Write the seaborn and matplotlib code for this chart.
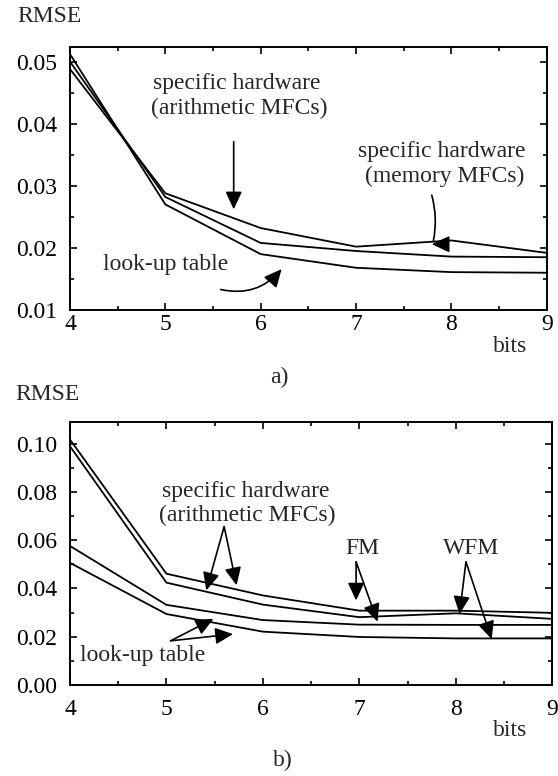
import numpy as np
import pandas as pd
import matplotlib
matplotlib.use("Agg")
import matplotlib.pyplot as plt
from matplotlib.ticker import MultipleLocator, FormatStrFormatter
import seaborn as sns

# ---------------- data ----------------
bits = [4, 5, 6, 7, 8, 9]

# panel a)
a_memory_mfc = [0.0488, 0.0288, 0.0232, 0.0202, 0.0212, 0.0192]
a_arith_mfc = [0.0500, 0.0282, 0.0208, 0.0195, 0.0186, 0.0185]
a_lookup = [0.0512, 0.0270, 0.0190, 0.0168, 0.0161, 0.0160]

# panel b)
b_hw_1 = [0.1017, 0.0461, 0.0371, 0.0308, 0.0308, 0.0299]
b_hw_2 = [0.0989, 0.0424, 0.0333, 0.0281, 0.0297, 0.0274]
b_lut_1 = [0.0576, 0.0332, 0.0269, 0.0250, 0.0249, 0.0249]
b_lut_2 = [0.0506, 0.0294, 0.0221, 0.0199, 0.0193, 0.0193]

a_yticks = [0.01, 0.02, 0.03, 0.04, 0.05]
b_yticks = [0.00, 0.02, 0.04, 0.06, 0.08, 0.10]
xticks = bits

sns.set_style("ticks")
plt.rcParams["font.family"] = ["Liberation Serif", "DejaVu Serif"]
plt.rcParams["mathtext.fontset"] = "dejavuserif"

FS = 17
W, H = 558, 776
fig = plt.figure(figsize=(W / 100, H / 100), dpi=100)
fig.patch.set_facecolor("white")


def px_axes(l, t, r, b):
    return fig.add_axes([l / W, 1 - b / H, (r - l) / W, (b - t) / H])


def long_df(series):
    rows = []
    for name, vals in series.items():
        for x, v in zip(bits, vals):
            rows.append({"bits": x, "rmse": v, "series": name})
    return pd.DataFrame(rows)


def style_axes(ax, ylim, yticks, ymin_step, fmt, xpad):
    ax.set_xlim(4, 9)
    ax.set_ylim(*ylim)
    ax.set_xticks(xticks)
    ax.set_yticks(yticks)
    ax.xaxis.set_minor_locator(MultipleLocator(0.5))
    ax.yaxis.set_minor_locator(MultipleLocator(ymin_step))
    ax.yaxis.set_major_formatter(FormatStrFormatter(fmt))
    ax.tick_params(which="both", direction="in", top=True, right=True,
                   colors="black", width=1.2)
    ax.tick_params(which="major", length=5)
    ax.tick_params(which="minor", length=3)
    ax.tick_params(axis="y", which="major", labelsize=FS, pad=9)
    ax.tick_params(axis="x", which="major", labelsize=FS, pad=xpad)
    for s in ax.spines.values():
        s.set_visible(True)
        s.set_linewidth(1.4)
        s.set_color("black")
    ax.set_xlabel("")
    ax.set_ylabel("")
    ax.set_facecolor("white")


def arrow(ax, head, tail, rad=0.0, style="-|>,head_length=0.9,head_width=0.42"):
    ax.annotate("", xy=head, xytext=tail,
                arrowprops=dict(arrowstyle=style,
                                mutation_scale=12, color="black", lw=1.2,
                                shrinkA=0, shrinkB=0,
                                connectionstyle=f"arc3,rad={rad}"))


# ---------------- panel a ----------------
ax1 = px_axes(70, 46.7, 546.7, 310)
dfa = long_df({"memory": a_memory_mfc, "arith": a_arith_mfc, "lut": a_lookup})
sns.lineplot(data=dfa, x="bits", y="rmse", hue="series",
             palette={"memory": "black", "arith": "black", "lut": "black"},
             linewidth=1.3, legend=False, ax=ax1)
style_axes(ax1, (0.01, 0.0524), a_yticks, 0.005, "%.2f", 3)

ax1.text(5.75, 0.0464, "specific hardware", ha="center", va="center", fontsize=FS)
ax1.text(5.77, 0.0424, "(arithmetic MFCs)", ha="center", va="center", fontsize=FS)
arrow(ax1, (5.717, 0.0262), (5.717, 0.0371))
ax1.text(7.90, 0.0355, "specific hardware", ha="center", va="center", fontsize=FS)
ax1.text(7.93, 0.0315, "(memory MFCs)", ha="center", va="center", fontsize=FS)
# hand-drawn style: near-vertical stroke ending in a left-pointing head
arrow(ax1, (7.812, 0.0212), (7.794, 0.0285), rad=-0.12, style="-")
arrow(ax1, (7.794, 0.0206), (7.944, 0.0206))
ax1.text(5.00, 0.0173, "look-up table", ha="center", va="center", fontsize=FS)
arrow(ax1, (6.22, 0.0166), (5.58, 0.0133), rad=0.3)

# ---------------- panel b ----------------
ax2 = px_axes(70, 421.9, 552.3, 685)
dfb = long_df({"hw1": b_hw_1, "hw2": b_hw_2, "lut1": b_lut_1, "lut2": b_lut_2})
sns.lineplot(data=dfb, x="bits", y="rmse", hue="series",
             palette={"hw1": "black", "hw2": "black", "lut1": "black", "lut2": "black"},
             linewidth=1.3, legend=False, ax=ax2)
style_axes(ax2, (0.0, 0.109), b_yticks, 0.01, "%.2f", 10)

ax2.text(5.82, 0.0801, "specific hardware", ha="center", va="center", fontsize=FS)
ax2.text(5.84, 0.0704, "(arithmetic MFCs)", ha="center", va="center", fontsize=FS)
arrow(ax2, (5.413, 0.0392), (5.598, 0.0656))
arrow(ax2, (5.727, 0.0413), (5.598, 0.0656))
ax2.text(7.03, 0.0565, "FM", ha="center", va="center", fontsize=FS)
arrow(ax2, (6.966, 0.0350), (6.966, 0.0510))
arrow(ax2, (7.188, 0.0262), (6.966, 0.0510))
ax2.text(8.16, 0.0565, "WFM", ha="center", va="center", fontsize=FS)
arrow(ax2, (8.038, 0.0294), (8.105, 0.0510))
arrow(ax2, (8.371, 0.0190), (8.105, 0.0510))
ax2.text(4.75, 0.0121, "look-up table", ha="center", va="center", fontsize=FS)
arrow(ax2, (5.487, 0.0274), (5.043, 0.0183))
arrow(ax2, (5.69, 0.0211), (5.043, 0.0183))

# ---------------- figure labels ----------------
def ftext(x, y, s, **kw):
    fig.text(x / W, 1 - y / H, s, fontsize=FS, va="center", **kw)

ftext(17, 16.7, "RMSE", ha="left")
ftext(510, 346.7, "bits", ha="center")
ftext(279, 377, "a)", ha="center")
ftext(15, 394, "RMSE", ha="left")
ftext(510, 730, "bits", ha="center")
ftext(283, 760, "b)", ha="center")

fig.savefig("out.png", dpi=100, facecolor="white")
